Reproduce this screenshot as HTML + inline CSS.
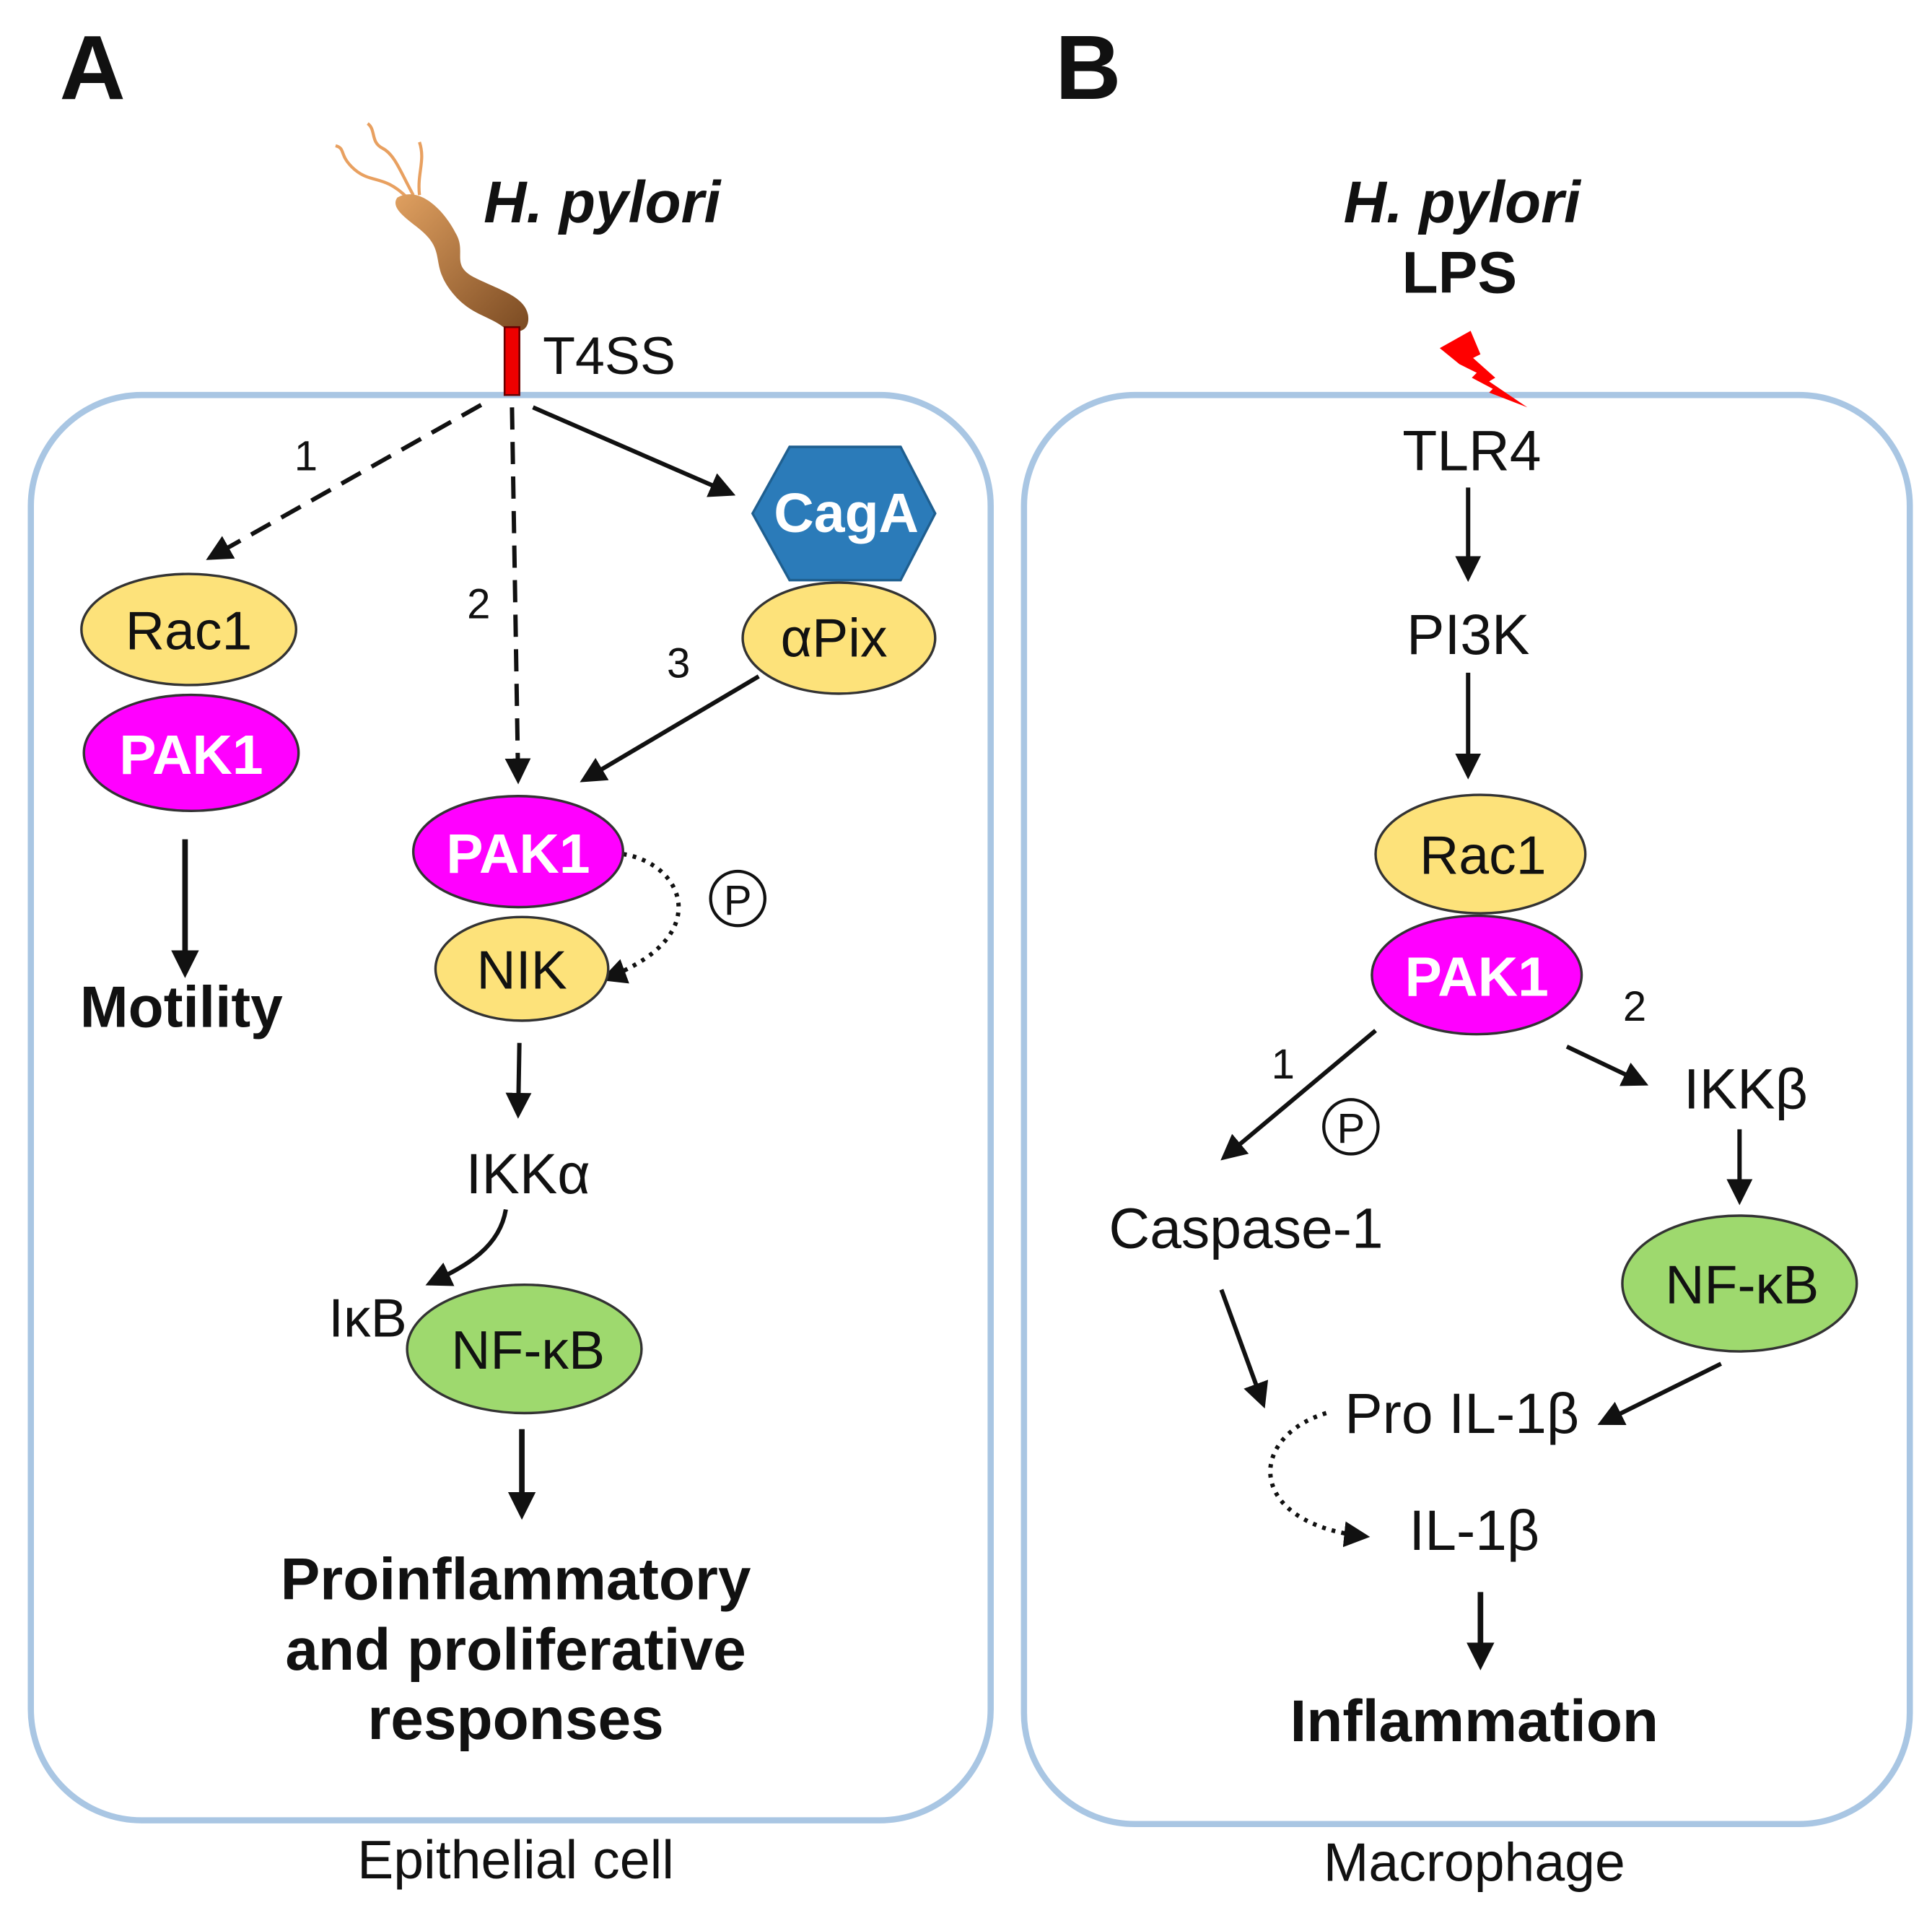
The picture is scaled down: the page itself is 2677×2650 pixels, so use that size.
<!DOCTYPE html>
<html><head><meta charset="utf-8"><style>
html,body{margin:0;padding:0;background:#fff}
svg{display:block}
text{font-family:"Liberation Sans",Arial,sans-serif;fill:#111}
</style></head><body>
<svg width="2677" height="2650" viewBox="0 0 1566 1550" xmlns="http://www.w3.org/2000/svg">
<defs>
<marker id="ah" markerWidth="6" markerHeight="6" refX="5" refY="3" orient="auto" markerUnits="strokeWidth"><path d="M0,0 L6,3 L0,6 z" fill="#111"/></marker>
<marker id="ah2" markerWidth="5" markerHeight="5" refX="4" refY="2.5" orient="auto" markerUnits="strokeWidth"><path d="M0,0 L5,2.5 L0,5 z" fill="#111"/></marker>
<linearGradient id="bg" x1="0" y1="0" x2="1" y2="1"><stop offset="0" stop-color="#e0a060"/><stop offset="1" stop-color="#7a4a22"/></linearGradient>
</defs>
<rect x="25" y="320" width="778" height="1155" rx="90" fill="none" stroke="#a9c6e3" stroke-width="5"/>
<rect x="830" y="320" width="718" height="1158" rx="90" fill="none" stroke="#a9c6e3" stroke-width="5"/>
<text x="75" y="80" font-size="74" font-weight="bold" text-anchor="middle">A</text>
<text x="882" y="80" font-size="74" font-weight="bold" text-anchor="middle">B</text>
<text x="418" y="1522" font-size="44" text-anchor="middle">Epithelial cell</text>
<text x="1195" y="1524" font-size="44" text-anchor="middle">Macrophage</text>

<g fill="none" stroke="#e8a060" stroke-width="2.5">
<path d="M330,160 C310,140 300,150 285,135 C275,125 280,120 272,118"/>
<path d="M335,158 C325,140 320,125 310,120 C300,115 305,105 298,100"/>
<path d="M340,158 C338,140 345,130 340,115"/>
</g>
<path d="M322,160 C340,150 360,170 370,190 C378,205 365,215 385,225 C405,235 425,240 428,255 C430,268 420,272 408,265 C395,255 380,255 365,235 C350,215 360,205 345,190 C335,180 315,170 322,160 z" fill="url(#bg)"/>
<rect x="409" y="265" width="12" height="55" fill="#e00" stroke="#600" stroke-width="1.5"/>
<text x="392" y="180" font-size="48" font-weight="bold" font-style="italic">H. pylori</text>
<text x="440" y="303" font-size="43">T4SS</text>

<g stroke="#111" stroke-width="3.5" fill="none">
<line x1="390" y1="328" x2="170" y2="452" stroke-dasharray="18,10" marker-end="url(#ah)"/>
<line x1="415" y1="330" x2="420" y2="632" stroke-dasharray="18,10" marker-end="url(#ah)"/>
<line x1="432" y1="330" x2="593" y2="400" marker-end="url(#ah)"/>
<line x1="615" y1="548" x2="473" y2="632" marker-end="url(#ah)"/>
<line x1="150" y1="680" x2="150" y2="788" stroke-width="4.5" marker-end="url(#ah2)"/>
<path d="M505,692 C555,700 580,760 490,793" stroke-dasharray="3,5" marker-end="url(#ah)"/>
<line x1="421" y1="845" x2="420" y2="903" marker-end="url(#ah)"/>
<path d="M410,980 C405,1010 380,1025 348,1040" marker-end="url(#ah)"/>
<line x1="423" y1="1158" x2="423" y2="1227" stroke-width="4.5" marker-end="url(#ah2)"/>
</g>
<text x="248" y="381" font-size="34" text-anchor="middle">1</text>
<text x="388" y="501" font-size="34" text-anchor="middle">2</text>
<text x="550" y="549" font-size="34" text-anchor="middle">3</text>

<polygon points="610,416 640,362 730,362 758,416 730,470 640,470" fill="#2b7bb9" stroke="#1f5f90" stroke-width="2"/>
<text x="686" y="431" font-size="45" font-weight="bold" text-anchor="middle" style="fill:#fff">CagA</text>
<ellipse cx="680" cy="517" rx="78" ry="45" fill="#fde27a" stroke="#333" stroke-width="2"/>
<text x="676" y="532" font-size="44" text-anchor="middle">αPix</text>

<ellipse cx="153" cy="510" rx="87" ry="45" fill="#fde27a" stroke="#333" stroke-width="2"/>
<text x="153" y="526" font-size="44" text-anchor="middle">Rac1</text>
<ellipse cx="155" cy="610" rx="87" ry="47" fill="#ff00ff" stroke="#333" stroke-width="2"/>
<text x="155" y="627" font-size="45" font-weight="bold" text-anchor="middle" style="fill:#fff">PAK1</text>
<text x="147" y="832" font-size="47" font-weight="bold" text-anchor="middle">Motility</text>

<ellipse cx="420" cy="690" rx="85" ry="45" fill="#ff00ff" stroke="#333" stroke-width="2"/>
<text x="420" y="707" font-size="45" font-weight="bold" text-anchor="middle" style="fill:#fff">PAK1</text>
<ellipse cx="423" cy="785" rx="70" ry="42" fill="#fde27a" stroke="#333" stroke-width="2"/>
<text x="423" y="801" font-size="44" text-anchor="middle">NIK</text>
<circle cx="598" cy="728" r="22" fill="none" stroke="#111" stroke-width="2.5"/>
<text x="598" y="741" font-size="34" text-anchor="middle">P</text>
<text x="428" y="967" font-size="46" text-anchor="middle">IKKα</text>
<ellipse cx="425" cy="1093" rx="95" ry="52" fill="#9ed96e" stroke="#333" stroke-width="2"/>
<text x="298" y="1083" font-size="44" text-anchor="middle">IκB</text>
<text x="428" y="1109" font-size="44" text-anchor="middle">NF-κB</text>
<g font-size="48" font-weight="bold" text-anchor="middle">
<text x="418" y="1296">Proinflammatory</text>
<text x="418" y="1353">and proliferative</text>
<text x="418" y="1409">responses</text>
</g>

<text x="1185" y="180" font-size="48" font-weight="bold" font-style="italic" text-anchor="middle">H. pylori</text>
<text x="1183" y="237" font-size="48" font-weight="bold" text-anchor="middle">LPS</text>
<polygon points="1167,282 1192,268 1200,287 1194,290 1212,306 1207,309 1238,330 1207,318 1210,315 1193,306 1197,302 1183,295" fill="#f00"/>
<text x="1193" y="381" font-size="46" text-anchor="middle">TLR4</text>
<text x="1190" y="530" font-size="46" text-anchor="middle">PI3K</text>
<g stroke="#111" stroke-width="3.5" fill="none">
<line x1="1190" y1="395" x2="1190" y2="468" marker-end="url(#ah)"/>
<line x1="1190" y1="545" x2="1190" y2="628" marker-end="url(#ah)"/>
<line x1="1115" y1="835" x2="992" y2="938" marker-end="url(#ah)"/>
<line x1="1270" y1="848" x2="1333" y2="878" marker-end="url(#ah)"/>
<line x1="1410" y1="915" x2="1410" y2="973" marker-end="url(#ah)"/>
<line x1="990" y1="1045" x2="1024" y2="1138" marker-end="url(#ah)"/>
<line x1="1395" y1="1105" x2="1298" y2="1153" marker-end="url(#ah)"/>
<path d="M1075,1145 C1010,1165 1010,1235 1107,1245" stroke-dasharray="3,5" marker-end="url(#ah)"/>
<line x1="1200" y1="1290" x2="1200" y2="1349" stroke-width="4.5" marker-end="url(#ah2)"/>
</g>
<ellipse cx="1200" cy="692" rx="85" ry="48" fill="#fde27a" stroke="#333" stroke-width="2"/>
<text x="1202" y="708" font-size="44" text-anchor="middle">Rac1</text>
<ellipse cx="1197" cy="790" rx="85" ry="48" fill="#ff00ff" stroke="#333" stroke-width="2"/>
<text x="1197" y="807" font-size="45" font-weight="bold" text-anchor="middle" style="fill:#fff">PAK1</text>
<text x="1325" y="827" font-size="34" text-anchor="middle">2</text>
<text x="1040" y="874" font-size="34" text-anchor="middle">1</text>
<circle cx="1095" cy="913" r="22" fill="none" stroke="#111" stroke-width="2.5"/>
<text x="1095" y="926" font-size="34" text-anchor="middle">P</text>
<text x="1415" y="898" font-size="46" text-anchor="middle">IKKβ</text>
<text x="1010" y="1011" font-size="46" text-anchor="middle">Caspase-1</text>
<ellipse cx="1410" cy="1040" rx="95" ry="55" fill="#9ed96e" stroke="#333" stroke-width="2"/>
<text x="1412" y="1056" font-size="44" text-anchor="middle">NF-κB</text>
<text x="1185" y="1161" font-size="46" text-anchor="middle">Pro IL-1β</text>
<text x="1195" y="1256" font-size="46" text-anchor="middle">IL-1β</text>
<text x="1195" y="1411" font-size="48" font-weight="bold" text-anchor="middle">Inflammation</text>
</svg>
</body></html>
